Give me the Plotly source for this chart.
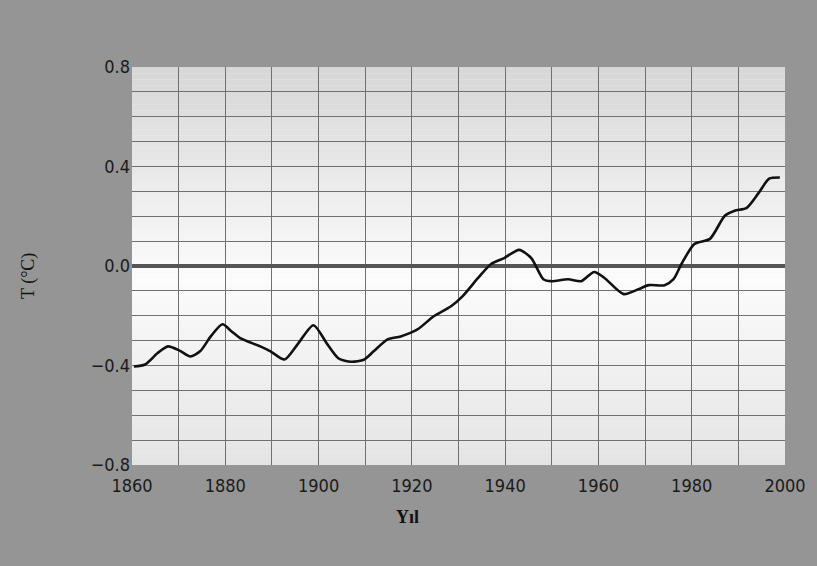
import plotly.graph_objects as go

# Data
years = [1860.4, 1862.8, 1865.5, 1867.7, 1870.2, 1872.5, 1874.6, 1877.0, 1879.4, 1881.3,
         1883.2, 1887.5, 1889.7, 1892.7, 1895.5, 1898.9, 1901.9, 1904.3, 1907.0, 1909.7,
         1911.8, 1914.8, 1917.6, 1921.2, 1924.7, 1928.4, 1930.9, 1934.2, 1937.0, 1939.8,
         1943.0, 1945.6, 1948.2, 1949.9, 1953.5, 1956.3, 1959.1, 1961.3, 1965.4, 1968.6,
         1970.8, 1974.2, 1976.1, 1977.8, 1980.6, 1983.9, 1987.1, 1989.2, 1991.8, 1994.4,
         1996.6, 1998.9]
temps = [-0.404, -0.396, -0.350, -0.323, -0.340, -0.364, -0.343, -0.280, -0.234, -0.262,
         -0.290, -0.323, -0.343, -0.376, -0.315, -0.238, -0.315, -0.372, -0.385, -0.377,
         -0.343, -0.295, -0.283, -0.255, -0.202, -0.162, -0.121, -0.048, 0.008, 0.032,
         0.065, 0.032, -0.053, -0.061, -0.053, -0.061, -0.024, -0.048, -0.113, -0.093,
         -0.077, -0.077, -0.053, 0.008, 0.089, 0.109, 0.202, 0.222, 0.234, 0.295,
         0.351, 0.356]

x_ticks = [1860, 1880, 1900, 1920, 1940, 1960, 1980, 2000]
y_ticks = [-0.8, -0.4, 0.0, 0.4, 0.8]
x_title = "Yıl"
y_title = "T (°C)"

fig = go.Figure()
fig.add_trace(go.Scatter(
    x=years, y=temps, mode="lines",
    line=dict(color="#111111", width=2.6, shape="spline", smoothing=0.7),
    hoverinfo="skip", showlegend=False,
))

# Vertical gradient in plot area (light gray at top/bottom, white near zero)
def band_gray(v):
    if v >= -0.05:
        t = (v + 0.05) / 0.85
        return round(252 + (214 - 252) * t)
    t = (-0.05 - v) / 0.75
    return round(252 + (228 - 252) * t)

n = 64
lo, hi = -0.8, 0.8
step = (hi - lo) / n
shapes = []
for i in range(n):
    y0 = lo + i * step
    y1 = y0 + step
    g = band_gray((y0 + y1) / 2)
    shapes.append(dict(type="rect", xref="paper", yref="y", x0=0, x1=1, y0=y0, y1=y1,
                       fillcolor=f"rgb({g},{g},{g})", line=dict(width=0), layer="below"))

tick_font = dict(family="Liberation Sans Narrow, Arial Narrow, DejaVu Sans Condensed, sans-serif",
                 size=18, color="#1a1a1a")

fig.update_layout(
    width=817, height=566,
    margin=dict(l=132, r=32, t=67, b=101),
    paper_bgcolor="#959595",
    plot_bgcolor="#f4f4f4",
    shapes=shapes,
    showlegend=False,
    xaxis=dict(
        range=[1860, 2000], tickvals=x_ticks, ticktext=[str(v) for v in x_ticks],
        showgrid=True, gridcolor="#707070", gridwidth=1,
        minor=dict(dtick=10, tick0=1860, showgrid=True, gridcolor="#707070", gridwidth=1),
        zeroline=False, showline=False, ticks="", ticklen=0,
        ticklabelstandoff=8,
        tickfont=tick_font,
    ),
    yaxis=dict(
        range=[-0.8, 0.8], tickvals=y_ticks, tickformat=".1f",
        showgrid=True, gridcolor="#707070", gridwidth=1,
        minor=dict(dtick=0.1, tick0=0, showgrid=True, gridcolor="#707070", gridwidth=1),
        zeroline=True, zerolinecolor="#555555", zerolinewidth=4,
        showline=False, ticks="", ticklen=0,
        ticklabelstandoff=1,
        tickfont=tick_font,
    ),
    annotations=[
        dict(text=f"<b>{x_title}</b>", xref="paper", yref="paper",
             x=(407 - 132) / (785 - 132), y=-(517 - 465) / (465 - 67),
             xanchor="center", yanchor="middle", showarrow=False,
             font=dict(family="Liberation Serif, serif", size=18, color="#111111")),
        dict(text=y_title, xref="paper", yref="paper",
             x=-(132 - 28) / (785 - 132), y=(465 - 276) / (465 - 67),
             xanchor="center", yanchor="middle", showarrow=False, textangle=-90,
             font=dict(family="Liberation Serif, serif", size=18, color="#111111")),
    ],
)

fig.write_html("out.html", config={"displayModeBar": False},
               post_script="document.body.style.margin='0';document.body.style.overflow='hidden';")
